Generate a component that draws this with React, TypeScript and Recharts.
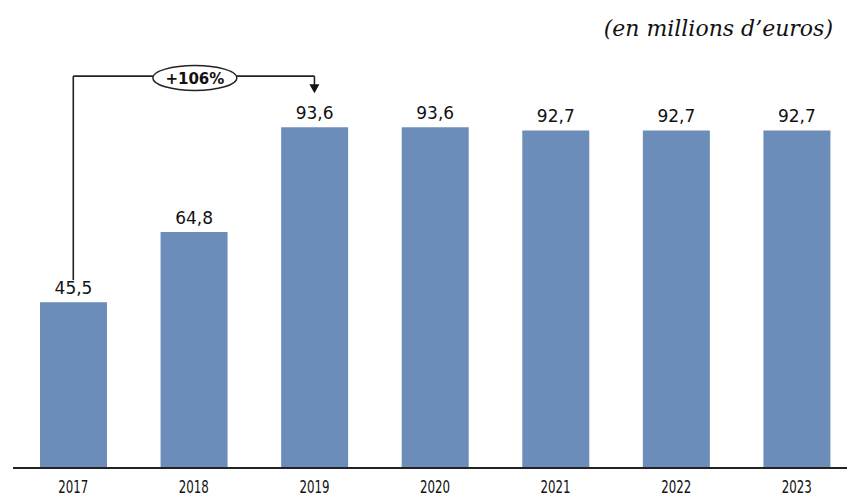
import React from 'react';
import { BarChart, Bar, XAxis, YAxis, LabelList, ReferenceLine, ReferenceDot } from 'recharts';

const years = ['2017', '2018', '2019', '2020', '2021', '2022', '2023'];
const revenue = [45.5, 64.8, 93.6, 93.6, 92.7, 92.7, 92.7];

// growth bracket 2017 -> 2019, in data units
const growthLabel = '+106%';
const bracketTop = 107.6;
const bracketStart = 51.6;
const arrowTip = 102.9;

const data = years.map((year, i) => ({ year, value: revenue[i] }));

const BAR_COLOR = '#6C8DBA';

const fmt = (v: number) => v.toFixed(1).replace('.', ',');

const YearTick = (props: any) => {
  const { x, y, payload } = props;
  return (
    <text
      x={x}
      y={y}
      dy={11}
      textAnchor="middle"
      fontFamily="'DejaVu Sans Condensed', 'DejaVu Sans', sans-serif"
      fontSize={18}
      textLength={30}
      lengthAdjust="spacingAndGlyphs"
      fill="#111"
    >
      {payload.value}
    </text>
  );
};

const GrowthBubble = (props: any) => {
  const { cx, cy } = props;
  return (
    <g>
      <ellipse cx={cx + 1} cy={cy} rx={42} ry={12.5} fill="#fff" stroke="#222" strokeWidth={1.5} />
      <text
        x={cx + 1}
        y={cy + 1}
        textAnchor="middle"
        dominantBaseline="central"
        fontFamily="'DejaVu Sans', sans-serif"
        fontWeight="bold"
        fontSize={15}
        fill="#111"
      >
        {growthLabel}
      </text>
    </g>
  );
};

const ArrowHead = (props: any) => {
  const { cx, cy } = props;
  return <path d={`M${cx - 5},${cy - 9} L${cx + 5},${cy - 9} L${cx},${cy} Z`} fill="#111" />;
};

const App: React.FC = () => {
  return (
    <div style={{ position: 'fixed', left: 0, top: 0, width: 847, height: 498, overflow: 'hidden', background: '#fff' }}>
      <div
        style={{
          position: 'absolute',
          right: 14,
          top: 15,
          fontFamily: "'DejaVu Serif', serif",
          fontStyle: 'italic',
          fontSize: 22,
          lineHeight: '28px',
          color: '#111',
        }}
      >
        (en millions d’euros)
      </div>
      <BarChart width={857} height={498} data={data} margin={{ top: 31, right: 0, bottom: 0, left: 13 }}>
        <XAxis
          dataKey="year"
          axisLine={{ stroke: '#222', strokeWidth: 2 }}
          tickLine={false}
          tickMargin={8}
          height={30}
          tick={<YearTick />}
        />
        <YAxis hide domain={[0, 120]} />
        <Bar dataKey="value" fill={BAR_COLOR} barSize={67} isAnimationActive={false}>
          <LabelList
            dataKey="value"
            position="top"
            offset={8}
            formatter={(v: any) => fmt(Number(v))}
            style={{ fill: '#111', fontSize: 17, fontFamily: "'DejaVu Sans', sans-serif" }}
          />
        </Bar>
        <ReferenceLine
          segment={[{ x: '2017', y: bracketStart }, { x: '2017', y: bracketTop }]}
          stroke="#222"
          strokeWidth={1.6}
          ifOverflow="visible"
        />
        <ReferenceLine
          segment={[{ x: '2017', y: bracketTop }, { x: '2019', y: bracketTop }]}
          stroke="#222"
          strokeWidth={1.6}
          ifOverflow="visible"
        />
        <ReferenceLine
          segment={[{ x: '2019', y: bracketTop }, { x: '2019', y: arrowTip + 2 }]}
          stroke="#222"
          strokeWidth={1.6}
          ifOverflow="visible"
        />
        <ReferenceDot x="2019" y={arrowTip} ifOverflow="visible" shape={ArrowHead} />
        <ReferenceDot x="2018" y={bracketTop - 0.5} ifOverflow="visible" shape={GrowthBubble} />
      </BarChart>
    </div>
  );
};

export default App;
